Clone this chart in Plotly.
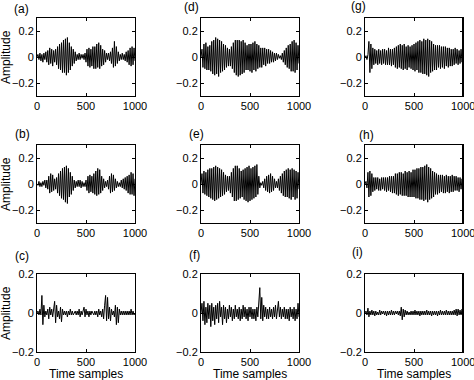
import plotly.graph_objects as go

# time samples (every 10th sample, 0..1000)
samples = list(range(0, 1001, 10))

sig_a = [0.00, 0.02, -0.02, 0.03, -0.03, 0.02, -0.04, 0.03, -0.02, 0.04,
         -0.04, 0.05, -0.06, 0.07, -0.05, 0.06, -0.07, 0.05, -0.04, 0.06,
         -0.06, 0.08, -0.09, 0.10, -0.10, 0.11, -0.12, 0.13, -0.12, 0.14,
         -0.14, 0.15, -0.12, 0.11, -0.10, 0.08, -0.07, 0.06, -0.05, 0.04,
         -0.03, 0.02, -0.02, 0.03, -0.02, 0.02, -0.01, 0.02, -0.02, 0.03,
         -0.04, 0.06, -0.07, 0.07, -0.08, 0.06, -0.07, 0.08, -0.09, 0.08,
         -0.09, 0.10, -0.08, 0.11, -0.09, 0.09, -0.07, 0.06, -0.06, 0.05,
         -0.04, 0.03, -0.02, 0.03, -0.03, 0.04, -0.05, 0.07, -0.08, 0.12,
         -0.07, 0.08, -0.05, 0.04, -0.03, 0.02, -0.02, 0.03, -0.02, 0.02,
         -0.03, 0.04, -0.04, 0.05, -0.06, 0.07, -0.07, 0.08, -0.06, 0.07, -0.03]

sig_b = [0.00, -0.01, 0.02, -0.02, 0.01, -0.02, 0.02, -0.01, 0.03, -0.03,
         0.03, -0.04, 0.06, -0.07, 0.08, -0.06, 0.07, -0.05, 0.04, -0.04,
         0.05, -0.07, 0.08, -0.09, 0.10, -0.11, 0.12, -0.12, 0.13, -0.14,
         0.14, -0.15, 0.12, -0.10, 0.09, -0.08, 0.06, -0.05, 0.03, -0.03,
         0.02, -0.02, 0.03, -0.02, 0.03, -0.03, 0.02, -0.02, 0.01, -0.02,
         0.03, -0.05, 0.06, -0.07, 0.07, -0.06, 0.06, -0.07, 0.08, -0.08,
         0.10, -0.09, 0.12, -0.08, 0.11, -0.07, 0.06, -0.05, 0.04, -0.03,
         0.02, -0.02, 0.03, -0.04, 0.06, -0.07, 0.08, -0.06, 0.07, -0.05,
         0.04, -0.03, 0.02, -0.02, 0.01, -0.02, 0.03, -0.03, 0.04, -0.04,
         0.05, -0.05, 0.06, -0.07, 0.07, -0.08, 0.09, -0.08, 0.08, -0.09, 0.04]

sig_c = [0.00, 0.01, -0.01, 0.02, -0.01, 0.09, -0.06, 0.04, -0.02, 0.01,
         -0.01, 0.02, -0.03, 0.03, -0.01, 0.02, -0.02, 0.03, 0.06, -0.05,
         0.04, -0.02, 0.01, -0.03, 0.03, -0.045, 0.02, -0.01, 0.01, -0.01,
         0.01, -0.02, 0.01, -0.01, 0.02, -0.01, 0.01, -0.01, 0.00, 0.01,
         -0.01, 0.01, -0.01, 0.02, -0.02, 0.01, -0.01, 0.02, 0.03, -0.02,
         0.02, -0.01, 0.01, -0.02, 0.01, -0.01, 0.01, 0.00, -0.01, 0.01,
         -0.01, 0.01, -0.02, 0.02, -0.01, 0.01, -0.02, 0.02, -0.03, 0.04,
         0.09, -0.04, 0.08, -0.03, 0.03, -0.04, 0.02, -0.01, 0.01, -0.02,
         0.04, -0.06, 0.03, -0.05, 0.02, -0.01, 0.01, -0.01, 0.01, -0.01,
         0.01, -0.01, 0.01, -0.01, 0.01, -0.01, 0.02, -0.01, 0.01, -0.01, 0.00]

sig_d = [0.00, 0.06, -0.08, 0.10, -0.09, 0.11, -0.10, 0.08, -0.10, 0.09,
         -0.11, 0.12, -0.13, 0.13, -0.14, 0.15, -0.13, 0.14, -0.15, 0.13,
         -0.12, 0.12, -0.11, 0.10, -0.10, 0.09, -0.08, 0.07, -0.07, 0.06,
         -0.07, 0.08, -0.09, 0.11, -0.12, 0.13, -0.14, 0.13, -0.15, 0.13,
         -0.14, 0.12, -0.13, 0.13, -0.12, 0.11, -0.10, 0.09, -0.10, 0.10,
         -0.11, 0.10, -0.12, 0.11, -0.10, 0.12, -0.11, 0.10, -0.09, 0.09,
         -0.08, 0.07, -0.08, 0.07, -0.06, 0.07, -0.07, 0.06, -0.05, 0.06,
         -0.05, 0.05, -0.04, 0.04, -0.04, 0.03, -0.03, 0.03, -0.02, 0.02,
         -0.01, 0.01, -0.02, 0.03, -0.04, 0.05, -0.06, 0.07, -0.08, 0.09,
         -0.09, 0.10, -0.11, 0.12, -0.11, 0.13, -0.12, 0.11, -0.10, 0.09, -0.05]

sig_e = [0.00, 0.08, -0.07, 0.10, -0.08, 0.09, -0.09, 0.11, -0.10, 0.12,
         -0.11, 0.12, -0.12, 0.13, -0.13, 0.14, -0.12, 0.13, -0.11, 0.12,
         -0.10, 0.11, -0.09, 0.09, -0.08, 0.07, -0.06, 0.06, -0.05, 0.06,
         -0.07, 0.09, -0.10, 0.12, -0.13, 0.14, -0.13, 0.14, -0.12, 0.12,
         -0.11, 0.10, -0.10, 0.11, -0.12, 0.12, -0.13, 0.13, -0.14, 0.14,
         -0.13, 0.12, -0.12, 0.13, -0.11, 0.14, -0.10, 0.15, -0.08, 0.06,
         -0.03, 0.01, -0.01, 0.02, -0.03, 0.04, -0.05, 0.06, -0.06, 0.07,
         -0.07, 0.08, -0.06, 0.06, -0.05, 0.04, -0.03, 0.02, -0.03, 0.04,
         -0.05, 0.06, -0.07, 0.08, -0.09, 0.10, -0.10, 0.11, -0.10, 0.12,
         -0.11, 0.11, -0.12, 0.12, -0.10, 0.11, -0.12, 0.10, -0.11, 0.09, -0.04]

sig_f = [0.00, 0.05, -0.04, 0.06, -0.06, 0.03, -0.05, 0.05, -0.03, 0.04,
         -0.07, 0.05, -0.04, 0.03, -0.06, 0.04, -0.03, 0.05, -0.05, 0.06,
         -0.02, 0.03, -0.06, 0.04, -0.03, 0.03, -0.05, 0.02, -0.03, 0.04,
         -0.02, 0.03, -0.04, 0.02, -0.03, 0.04, -0.02, 0.02, -0.03, 0.03,
         -0.04, 0.02, -0.03, 0.04, -0.02, 0.03, -0.03, 0.02, -0.04, 0.03,
         -0.02, 0.03, -0.03, 0.02, -0.03, 0.02, -0.04, 0.03, -0.02, 0.04,
         0.13, -0.03, 0.08, -0.04, 0.04, -0.02, 0.03, -0.03, 0.02, -0.03,
         0.03, -0.02, 0.02, -0.03, 0.03, -0.02, 0.04, -0.03, 0.03, 0.06,
         -0.02, 0.03, -0.03, 0.02, -0.02, 0.03, -0.03, 0.02, -0.03, 0.02,
         -0.04, 0.03, -0.02, 0.02, -0.03, 0.03, -0.04, 0.02, -0.03, 0.05, -0.02]

sig_g = [0.00, 0.01, -0.02, 0.02, 0.12, -0.12, 0.10, -0.09, 0.07, -0.06,
         0.06, -0.05, 0.05, -0.06, 0.06, -0.05, 0.05, -0.06, 0.06, -0.05,
         0.06, -0.06, 0.05, -0.06, 0.07, -0.06, 0.06, -0.07, 0.06, -0.06,
         0.07, -0.08, 0.08, -0.09, 0.09, -0.08, 0.10, -0.09, 0.09, -0.10,
         0.10, -0.09, 0.08, -0.10, 0.09, -0.08, 0.08, -0.09, 0.09, -0.10,
         0.10, -0.11, 0.11, -0.10, 0.12, -0.12, 0.13, -0.12, 0.12, -0.13,
         0.14, -0.13, 0.13, -0.14, 0.14, -0.15, 0.13, -0.12, 0.12, -0.11,
         0.10, -0.10, 0.09, -0.10, 0.09, -0.08, 0.09, -0.09, 0.08, -0.08,
         0.08, -0.09, 0.08, -0.07, 0.07, -0.08, 0.07, -0.07, 0.06, -0.07,
         0.06, -0.06, 0.07, -0.05, 0.06, -0.06, 0.05, -0.05, 0.06, -0.04, 0.03]

sig_h = [0.00, 0.02, -0.03, 0.09, -0.10, 0.10, -0.09, 0.08, -0.06, 0.05,
         -0.05, 0.05, -0.04, 0.05, -0.05, 0.04, -0.05, 0.05, -0.04, 0.05,
         -0.05, 0.05, -0.06, 0.05, -0.05, 0.06, -0.06, 0.06, -0.07, 0.06,
         -0.07, 0.08, -0.08, 0.08, -0.09, 0.09, -0.08, 0.09, -0.09, 0.08,
         -0.09, 0.10, -0.09, 0.09, -0.10, 0.10, -0.10, 0.09, -0.10, 0.11,
         -0.10, 0.11, -0.11, 0.12, -0.11, 0.12, -0.12, 0.13, -0.12, 0.13,
         -0.13, 0.14, -0.12, 0.15, -0.14, 0.13, -0.12, 0.12, -0.11, 0.10,
         -0.10, 0.09, -0.08, 0.08, -0.08, 0.07, -0.07, 0.07, -0.06, 0.07,
         -0.07, 0.06, -0.07, 0.07, -0.06, 0.06, -0.07, 0.06, -0.06, 0.07,
         -0.06, 0.06, -0.05, 0.06, -0.05, 0.05, -0.06, 0.05, -0.04, 0.04, -0.02]

sig_i = [0.00, 0.01, -0.01, 0.025, -0.02, 0.01, -0.01, 0.015, -0.01, 0.01,
         -0.015, 0.01, -0.01, 0.005, -0.01, 0.015, -0.01, 0.01, -0.005, 0.01,
         -0.01, 0.01, -0.015, 0.01, -0.01, 0.01, -0.01, 0.015, -0.01, 0.01,
         -0.01, 0.01, -0.005, 0.01, -0.01, 0.01, -0.015, 0.03, -0.035, 0.02,
         -0.02, 0.015, -0.01, 0.01, -0.01, 0.005, -0.01, 0.01, -0.01, 0.01,
         -0.01, 0.015, -0.01, 0.01, -0.01, 0.01, -0.015, 0.01, -0.01, 0.01,
         -0.01, 0.01, -0.01, 0.015, -0.01, 0.01, -0.01, 0.01, -0.015, 0.01,
         -0.01, 0.01, -0.01, 0.01, -0.015, 0.01, -0.01, 0.015, -0.01, 0.01,
         -0.01, 0.01, -0.01, 0.015, -0.01, 0.01, -0.01, 0.01, -0.01, 0.01,
         -0.01, 0.015, -0.01, 0.02, -0.015, 0.02, -0.01, 0.015, -0.01, 0.02, 0.00]

panel_labels = ["(a)", "(b)", "(c)", "(d)", "(e)", "(f)", "(g)", "(h)", "(i)"]
x_ticks = [0, 500, 1000]
x_tick_text = ["0", "500", "1000"]
y_ticks = [-0.2, 0, 0.2]
y_tick_text = ["\u22120.2", "0", "0.2"]
ylabel = "Amplitude"
xlabel = "Time samples"

W, H = 474, 380
# panel boxes in pixels (left, right) per column, (top, bottom) per row
cols_px = [(37, 135), (201, 299), (365, 463)]
rows_px = [(18, 96), (145, 223), (274, 352)]
row_ranges = [[-0.3, 0.3], [-0.3, 0.3], [-0.2, 0.2]]
label_pos = {  # (left x, center y) in pixels
    "(a)": (12, 8.5), "(b)": (13, 134), "(c)": (13, 256),
    "(d)": (182, 7), "(e)": (187, 134), "(f)": (187, 255),
    "(g)": (349, 6), "(h)": (357, 135), "(i)": (350, 252),
}

signals = [sig_a, sig_b, sig_c, sig_d, sig_e, sig_f, sig_g, sig_h, sig_i]
FONT = "Liberation Sans, Arial, Helvetica, sans-serif"

fig = go.Figure()
annotations = []
shapes = []
layout_axes = {}
for k, sig in enumerate(signals):
    c, r = divmod(k, 3)
    n = k + 1
    xa = "x" if n == 1 else f"x{n}"
    ya = "y" if n == 1 else f"y{n}"
    fig.add_trace(go.Scatter(x=samples, y=sig, mode="lines",
                             line=dict(color="black", width=1.0),
                             xaxis=xa, yaxis=ya, showlegend=False,
                             hoverinfo="skip"))
    l, rr = cols_px[c]
    t, b = rows_px[r]
    xkey = "xaxis" if n == 1 else f"xaxis{n}"
    ykey = "yaxis" if n == 1 else f"yaxis{n}"
    common = dict(showline=True, linecolor="black", linewidth=1, mirror="allticks",
                  ticks="inside", ticklen=3, tickcolor="black", tickwidth=1,
                  showgrid=False, zeroline=False, automargin=False,
                  ticklabeloverflow="allow",
                  tickfont=dict(family=FONT, size=11, color="black"))
    # last column: the edge label "1000" is written as an annotation below
    xt_text = x_tick_text if c < 2 else x_tick_text[:2] + [""]
    layout_axes[xkey] = dict(domain=[l / W, rr / W], range=[0, 1000],
                             tickvals=x_ticks, ticktext=xt_text, anchor=ya, **common)
    layout_axes[ykey] = dict(domain=[1 - b / H, 1 - t / H], range=row_ranges[r],
                             tickvals=y_ticks, ticktext=y_tick_text,
                             anchor=xa, **common)
    if c == 2:
        # right frame edge of the last column, in paper coordinates
        shapes.append(dict(type="line", xref="paper", yref="paper",
                           x0=(rr - 0.5) / W, x1=(rr - 0.5) / W,
                           y0=1 - b / H, y1=1 - t / H,
                           line=dict(color="black", width=1), layer="above"))
        annotations.append(dict(text=x_tick_text[2], x=rr / W, y=1 - (b + 10) / H,
                                xref="paper", yref="paper", xanchor="center",
                                yanchor="middle", showarrow=False,
                                font=dict(family=FONT, size=11, color="black")))
    lx, ly = label_pos[panel_labels[k]]
    annotations.append(dict(text=panel_labels[k], x=lx / W, y=1 - ly / H,
                            xref="paper", yref="paper", xanchor="left", yanchor="middle",
                            showarrow=False, font=dict(family=FONT, size=12, color="black")))

for r in range(3):
    t, b = rows_px[r]
    annotations.append(dict(text=ylabel, x=6 / W, y=1 - ((t + b) / 2) / H,
                            xref="paper", yref="paper", xanchor="center", yanchor="middle",
                            textangle=-90, showarrow=False,
                            font=dict(family=FONT, size=12, color="black")))
for c in range(3):
    l, rr = cols_px[c]
    annotations.append(dict(text=xlabel, x=((l + rr) / 2) / W, y=1 - 373.5 / H,
                            xref="paper", yref="paper", xanchor="center", yanchor="middle",
                            showarrow=False, font=dict(family=FONT, size=12, color="black")))

fig.update_layout(width=W, height=H, margin=dict(l=0, r=0, t=0, b=0, autoexpand=False),
                  paper_bgcolor="white", plot_bgcolor="white",
                  annotations=annotations, shapes=shapes, **layout_axes)
fig.write_html(
    "out.html", config={"displayModeBar": False, "responsive": False},
    post_script=("document.documentElement.style.overflow='hidden';"
                 "document.body.style.margin='0';document.body.style.overflow='hidden';"))
